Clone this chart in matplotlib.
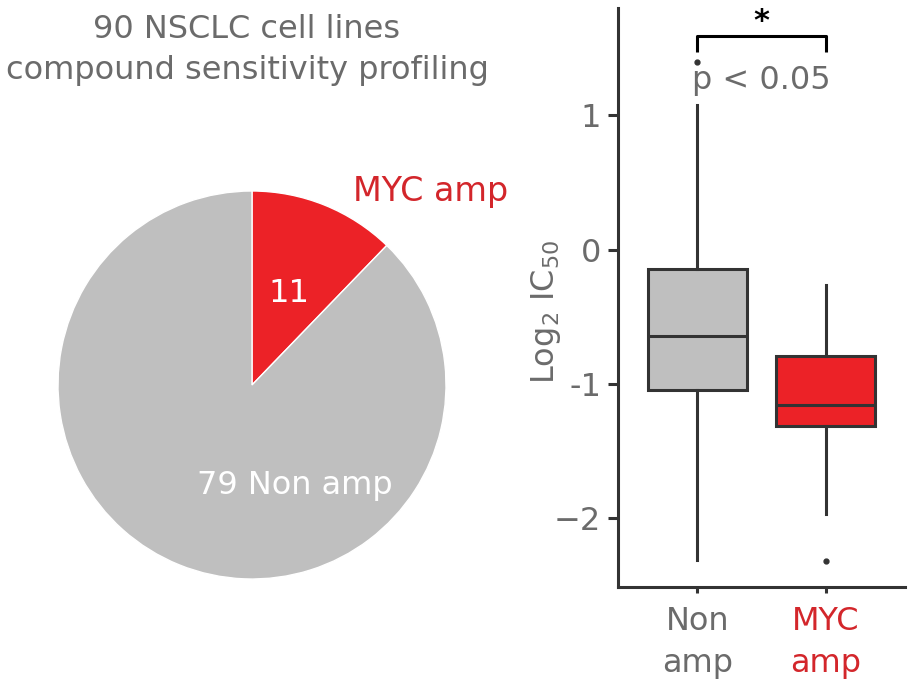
import matplotlib
matplotlib.use("Agg")
import matplotlib.pyplot as plt

plt.rcParams['font.family'] = ['DejaVu Sans']

# ---- data ----
pie_labels = ["MYC amp", "Non amp"]
pie_counts = [11, 79]
pie_colors = ["#EC2227", "#BFBFBF"]

groups = ["Non\namp", "MYC\namp"]
group_colors = ["#BFBFBF", "#EC2227"]
label_colors = ["#6B6B6B", "#D3262B"]
q1 = [-1.04, -1.31]
med = [-0.645, -1.155]
q3 = [-0.145, -0.79]
whislo = [-2.31, -1.965]
whishi = [1.075, -0.262]
outliers = [[1.40], [-2.32]]

yticks = [-2, -1, 0, 1]
ytick_labels = ["\u22122", "-1", "0", "1"]

W, H = 917, 694
fig = plt.figure(figsize=(W / 100, H / 100), dpi=100)
grey = "#6B6B6B"
fs = 23

# ---- pie ----
cx, cy, r = 252, 385, 194
axp = fig.add_axes([(cx - r) / W, (H - cy - r) / H, 2 * r / W, 2 * r / H])
axp.pie(pie_counts, colors=pie_colors, startangle=90, counterclock=False,
        wedgeprops=dict(edgecolor="white", linewidth=1.0), radius=1.0)
axp.set_xlim(-1, 1)
axp.set_ylim(-1, 1)
axp.set_aspect('auto')
axp.axis('off')
axp.text(0.19, 0.47, str(pie_counts[0]), color="white", fontsize=fs,
         ha='center', va='center')
axp.text(0.22, -0.52, f"{pie_counts[1]} {pie_labels[1]}", color="white",
         fontsize=fs, ha='center', va='center')
axp.text(0.92, 0.995, pie_labels[0], color="#D3262B", fontsize=24,
         ha='center', va='center', clip_on=False)
fig.text(247 / W, 1 - 29 / H, "90 NSCLC cell lines", color=grey, fontsize=fs,
         ha='center', va='center')
fig.text(247 / W, 1 - 70 / H, "compound sensitivity profiling", color=grey,
         fontsize=fs, ha='center', va='center')

# ---- boxplot ----
L, R, T, B = 618, 905, 8, 587
axb = fig.add_axes([L / W, (H - B) / H, (R - L) / W, (B - T) / H])
stats = []
for i in range(len(groups)):
    stats.append(dict(med=med[i], q1=q1[i], q3=q3[i], whislo=whislo[i],
                      whishi=whishi[i], fliers=outliers[i], label=groups[i]))
lw = 2.2
bp = axb.bxp(stats, positions=range(len(groups)), widths=0.77,
             patch_artist=True, showcaps=False,
             boxprops=dict(linewidth=lw, edgecolor="#333333"),
             medianprops=dict(linewidth=lw, color="#333333"),
             whiskerprops=dict(linewidth=lw, color="#333333"),
             flierprops=dict(marker='o', markersize=3.5, markerfacecolor="#333333",
                             markeredgecolor="#333333"))
for patch, c in zip(bp['boxes'], group_colors):
    patch.set_facecolor(c)

axb.set_xlim(-0.62, 1.62)
axb.set_ylim(-2.51, 1.8)
axb.set_yticks(yticks)
axb.set_yticklabels(ytick_labels)
axb.set_xticks(range(len(groups)))
axb.set_xticklabels(groups, linespacing=1.45)
axb.tick_params(axis='both', labelsize=fs, width=lw, color="#333333",
                labelcolor=grey)
axb.tick_params(axis='y', length=7, pad=5)
axb.tick_params(axis='x', length=4, pad=10)
for t, c in zip(axb.get_xticklabels(), label_colors):
    t.set_color(c)
for s in ['top', 'right']:
    axb.spines[s].set_visible(False)
for s in ['left', 'bottom']:
    axb.spines[s].set_linewidth(lw)
    axb.spines[s].set_color("#333333")
axb.set_ylabel("Log$_2$ IC$_{50}$", color=grey, fontsize=fs)
axb.yaxis.set_label_coords(-0.19, 0.475)

# significance bracket
axb.plot([0, 0, 1, 1], [1.47, 1.59, 1.59, 1.47], color="black", lw=lw,
         clip_on=False, solid_capstyle='butt')
axb.text(0.5, 1.70, "*", color="black", fontsize=22, ha='center', va='center',
         fontweight='bold')
axb.text(0.5, 1.26, "p < 0.05", color=grey, fontsize=fs, ha='center', va='center')

fig.savefig("out.png", dpi=100)
